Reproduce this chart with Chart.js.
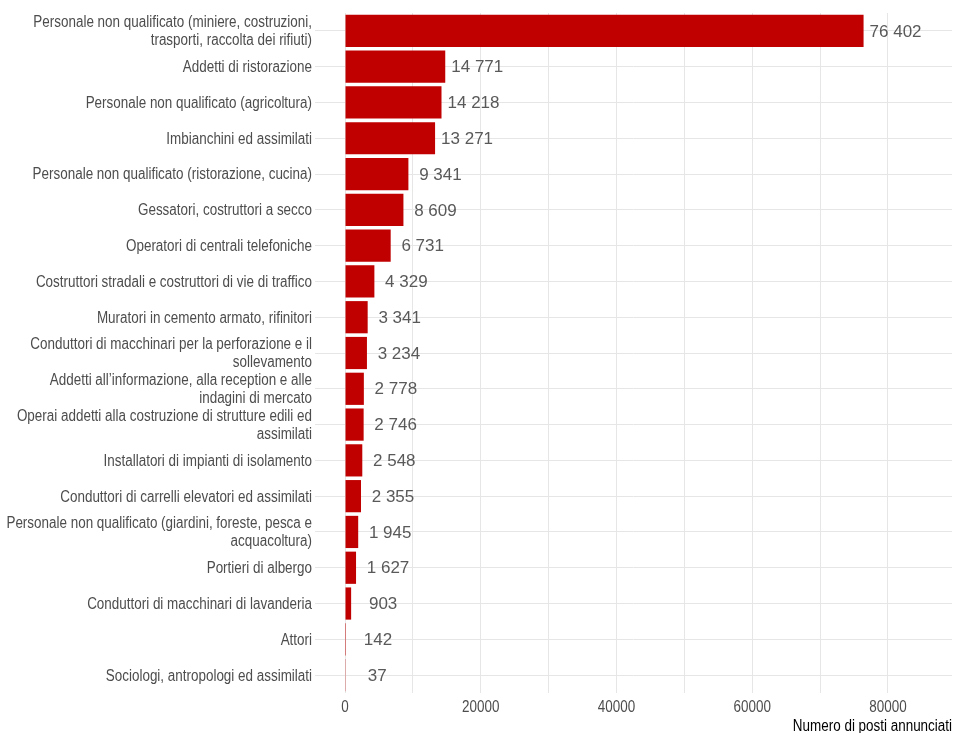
<!DOCTYPE html>
<html>
<head>
<meta charset="utf-8">
<script src="https://cdn.jsdelivr.net/npm/chart.js@4/dist/chart.umd.min.js"></script>
<style>
    html, body { margin: 0; padding: 0; background: #ffffff; }
    #wrap { width: 954px; height: 733px; }
</style>
</head>
<body>
<div id="wrap"><canvas id="myChart" width="954" height="733"></canvas></div>
<script>
// Occupations (multi-line labels as arrays), top to bottom
const categories = [
    ['Personale non qualificato (miniere, costruzioni,', 'trasporti, raccolta dei rifiuti)'],
    'Addetti di ristorazione',
    'Personale non qualificato (agricoltura)',
    'Imbianchini ed assimilati',
    'Personale non qualificato (ristorazione, cucina)',
    'Gessatori, costruttori a secco',
    'Operatori di centrali telefoniche',
    'Costruttori stradali e costruttori di vie di traffico',
    'Muratori in cemento armato, rifinitori',
    ['Conduttori di macchinari per la perforazione e il', 'sollevamento'],
    ['Addetti all\u2019informazione, alla reception e alle', 'indagini di mercato'],
    ['Operai addetti alla costruzione di strutture edili ed', 'assimilati'],
    'Installatori di impianti di isolamento',
    'Conduttori di carrelli elevatori ed assimilati',
    ['Personale non qualificato (giardini, foreste, pesca e', 'acquacoltura)'],
    'Portieri di albergo',
    'Conduttori di macchinari di lavanderia',
    'Attori',
    'Sociologi, antropologi ed assimilati'
];

// Number of job postings
const postings = [76402, 14771, 14218, 13271, 9341, 8609, 6731, 4329, 3341, 3234,
                  2778, 2746, 2548, 2355, 1945, 1627, 903, 142, 37];

// x axis ticks (gridlines every 10000, labels every 20000)
const xTicks = [0, 10000, 20000, 30000, 40000, 50000, 60000, 70000, 80000];
const xTickLabels = ['0', '', '20000', '', '40000', '', '60000', '', '80000'];

const axisTitle = 'Numero di posti annunciati';

const textFont = '16px "Liberation Sans", Arial, sans-serif';
const squeeze = 0.84; // axis text in the original uses a narrow face

// Format with a space as thousands separator: 76402 -> "76 402"
function formatNumber(n) {
    return String(n).replace(/\B(?=(\d{3})+(?!\d))/g, ' ');
}

// Draw narrow text (scaled horizontally) anchored at x,y
function narrowText(ctx, text, x, y, align) {
    ctx.save();
    ctx.translate(x, y);
    ctx.scale(squeeze, 1);
    ctx.textAlign = align;
    ctx.fillText(text, 0, 0);
    ctx.restore();
}

// Axis labels and title
const axisText = {
    id: 'axisText',
    afterDraw(chart) {
        const ctx = chart.ctx;
        const xScale = chart.scales.x;
        const yScale = chart.scales.y;
        ctx.save();
        ctx.font = textFont;
        ctx.textBaseline = 'middle';
        ctx.fillStyle = '#4D4D4D';

        // category labels, right aligned against the plot
        categories.forEach((label, i) => {
            const lines = Array.isArray(label) ? label : [label];
            const yc = yScale.getPixelForTick(i);
            lines.forEach((line, j) => {
                const ly = yc + (j - (lines.length - 1) / 2) * 18 + 1;
                narrowText(ctx, line, yScale.right - 3, ly, 'right');
            });
        });

        // x tick labels
        xTicks.forEach((v, i) => {
            if (xTickLabels[i] !== '') {
                narrowText(ctx, xTickLabels[i], xScale.getPixelForValue(v), xScale.top + 15, 'center');
            }
        });

        // axis title
        ctx.fillStyle = '#000000';
        narrowText(ctx, axisTitle, xScale.right, xScale.bottom - 6, 'right');
        ctx.restore();
    }
};

// Draw the value labels to the right of each bar
const valueLabels = {
    id: 'valueLabels',
    afterDatasetsDraw(chart) {
        const ctx = chart.ctx;
        const meta = chart.getDatasetMeta(0);
        const xScale = chart.scales.x;
        ctx.save();
        ctx.font = '17px "Liberation Sans", Arial, sans-serif';
        ctx.fillStyle = '#595959';
        ctx.textAlign = 'center';
        ctx.textBaseline = 'middle';
        meta.data.forEach((bar, i) => {
            const x = xScale.getPixelForValue(postings[i]) + 32;
            ctx.fillText(formatNumber(postings[i]), x, bar.y + 1);
        });
        ctx.restore();
    }
};

document.addEventListener('DOMContentLoaded', function () {
    const ctx = document.getElementById('myChart').getContext('2d');

    new Chart(ctx, {
        type: 'bar',
        data: {
            labels: categories,
            datasets: [{
                data: postings,
                backgroundColor: '#C00000',
                borderWidth: 0,
                categoryPercentage: 0.9,
                barPercentage: 1.0
            }]
        },
        options: {
            indexAxis: 'y',
            responsive: false,
            animation: false,
            maintainAspectRatio: false,
            layout: {
                padding: { left: 0, right: 2, top: 13, bottom: 0 }
            },
            plugins: {
                legend: { display: false },
                tooltip: { enabled: false }
            },
            scales: {
                x: {
                    type: 'linear',
                    min: -4420,
                    max: 89430,
                    border: { display: false },
                    grid: {
                        color: '#E6E6E6',
                        lineWidth: 1,
                        drawTicks: false
                    },
                    afterBuildTicks: function (scale) {
                        scale.ticks = xTicks.map(v => ({ value: v }));
                    },
                    afterFit: function (scale) {
                        scale.height = 40; // keeps the plot bottom at ~693px
                    },
                    ticks: { display: false }
                },
                y: {
                    type: 'category',
                    offset: true,
                    border: { display: false },
                    grid: {
                        offset: false,
                        color: '#E6E6E6',
                        lineWidth: 1,
                        drawTicks: false
                    },
                    afterFit: function (scale) {
                        scale.width = 315; // plot area starts at x=315
                    },
                    ticks: { display: false }
                }
            }
        },
        plugins: [valueLabels, axisText]
    });
});
</script>
</body>
</html>
